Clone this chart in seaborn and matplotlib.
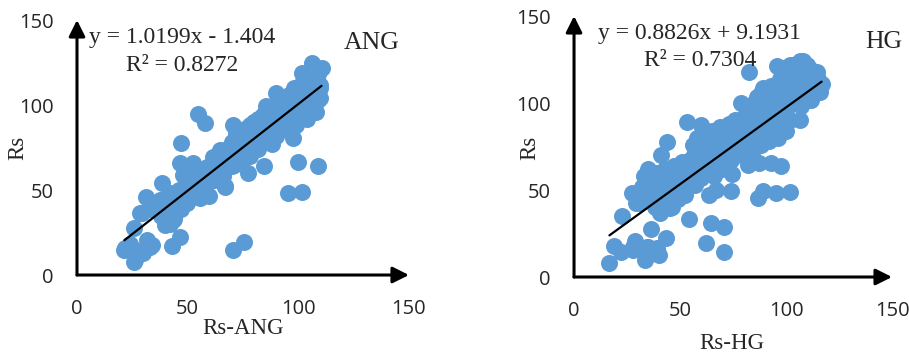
import pandas as pd
import matplotlib.pyplot as plt
import seaborn as sns

# --- Data ---
ang_x = [54.8, 57.8, 47.0, 46.5, 52.6, 38.6, 31.0, 67.0, 59.8, 55.6, 48.8, 46.5, 42.8, 70.6, 75.4,
         21.4, 25.9, 25.9, 28.5, 33.7, 31.5, 33.0, 30.0, 26.2, 21.7, 24.0, 28.0, 42.0, 29.2, 77.1,
         84.5, 87.9, 97.7, 100.0, 109.0, 95.5, 101.5, 106.0, 110.5, 109.0, 106.0, 70.6, 90.0, 85.4,
         101.5, 66.9, 37.5, 40.5, 39.8, 43.5, 36.0, 49.5, 43.5, 61.6, 64.6, 58.6, 54.0, 49.5, 48.0,
         33, 35, 37, 38, 40, 41, 42, 43, 44, 45, 46, 47, 48, 50, 50, 52, 53, 54, 55, 56, 57, 58, 59,
         60, 61, 62, 63, 64, 65, 66, 67, 68, 69, 70, 71, 72, 73, 74, 75, 76, 77, 78, 79, 80, 81, 82,
         83, 84, 85, 86, 87, 88, 89, 90, 91, 92, 93, 94, 95, 96, 97, 98, 99, 100, 101, 102, 103, 104,
         105, 106, 107, 108, 109, 110, 108, 104, 100, 96, 92, 88, 84, 80, 76, 72, 68, 64, 60, 56, 52,
         48, 44, 71, 73, 78, 85, 90, 95, 98, 103, 105, 107, 66, 62, 58, 72, 76, 80, 94, 98, 102,
         62, 65, 68, 70, 72, 74, 76, 78, 80, 82, 84, 86, 88, 90, 92, 94, 96, 98, 100, 102, 104, 106,
         75, 79, 83, 87, 91, 95, 99, 103, 107, 110, 108, 110,
         70, 74, 82, 86, 90, 94, 99, 104, 108]
ang_y = [94.5, 89.2, 77.8, 66.1, 65.7, 53.9, 45.7, 52.0, 46.5, 45.1, 42.2, 22.2, 17.3, 14.7, 19.2,
         14.7, 7.8, 27.8, 36.3, 17.6, 20.6, 16.7, 12.8, 8.8, 15.7, 18.0, 14.0, 30.0, 36.5, 60.2,
         64.1, 76.9, 80.8, 66.3, 64.1, 48.4, 49.0, 124.5, 122.0, 103.0, 96.0, 88.2, 107.0, 99.4,
         118.6, 52.4, 44.0, 36.3, 29.4, 32.4, 38.2, 42.2, 45.0, 69.6, 73.5, 63.7, 59.8, 59.8, 58.8,
         40, 38, 42, 35, 45, 40, 48, 36, 33, 42, 50, 39, 45, 52, 46, 50, 57, 48, 53, 58, 50, 55, 60,
         56, 64, 60, 66, 62, 67, 63, 70, 66, 72, 68, 75, 70, 77, 72, 80, 74, 82, 76, 84, 78, 86, 80,
         88, 82, 90, 84, 92, 86, 95, 88, 97, 90, 99, 92, 101, 94, 103, 96, 105, 98, 108, 100, 110, 102,
         112, 104, 115, 108, 118, 112, 120, 114, 104, 100, 95, 91, 86, 83, 78, 74, 70, 66, 62, 55, 54,
         48, 45, 65, 67, 70, 80, 84, 88, 92, 96, 98, 100, 58, 56, 52, 84, 86, 90, 104, 110, 114,
         68, 72, 74, 78, 82, 84, 86, 88, 90, 92, 94, 96, 98, 100, 102, 104, 106, 108, 110, 112, 116, 118,
         76, 80, 84, 88, 92, 96, 100, 104, 108, 110, 112, 104,
         64, 66, 74, 78, 82, 86, 88, 92, 96]

hg_x = [82.5, 78.6, 53.5, 59.7, 44.0, 40.9, 27.2, 29.2, 22.5, 36.3, 54.1, 64.5, 70.8, 62.3, 70.9,
        16.7, 19.0, 22.2, 28.8, 27.7, 34.3, 33.5, 40.3, 43.4, 35.0, 39.0, 28.0, 73.9, 63.8, 74.4,
        86.6, 89.3, 95.3, 101.9, 97.6, 92.8, 87.4, 82.2, 80.7, 106.6, 95.6, 114.5, 116.8, 116.0,
        106.6, 89.3, 86.2, 45.3, 40.6, 31.1, 52.4, 67.0, 66.0,
        32, 34, 35, 36, 37, 38, 39, 40, 41, 42, 43, 44, 45, 46, 47, 48, 49, 50, 51, 52, 53, 54, 55,
        56, 57, 58, 59, 60, 35, 38, 44, 46, 50, 40, 36,
        61, 62, 63, 64, 65, 66, 67, 68, 69, 70, 71, 72, 73, 74, 75, 76, 77, 78, 79, 80, 62, 58, 56,
        60, 70, 74,
        81, 82, 83, 84, 85, 86, 87, 88, 89, 90, 91, 92, 93, 94, 95, 96, 97, 98, 99, 100, 101, 102,
        103, 104, 105, 106, 107, 108, 109, 110, 111, 112, 113, 114, 115, 96, 100, 92, 88, 84, 98,
        103, 108, 111,
        33, 37, 41, 45, 49, 53, 57, 39, 43, 47, 51, 55, 59, 62, 66, 70, 74, 78, 82, 86, 90, 94, 98,
        102, 106, 110, 100, 104, 108, 112, 96, 92, 88, 84, 72, 68, 64, 57, 54, 60, 65, 69, 64,
        100, 104, 109, 113, 102, 106]
hg_y = [117.6, 99.8, 89.3, 87.4, 77.8, 70.1, 48.5, 42.3, 35.1, 27.4, 33.3, 31.2, 28.9, 19.3, 14.6,
        8.2, 18.0, 14.6, 20.9, 17.0, 17.4, 9.8, 12.6, 22.2, 17.4, 16.5, 15.5, 49.6, 47.1, 59.0,
        45.2, 49.6, 48.1, 49.0, 63.8, 65.3, 65.3, 64.4, 70.7, 124.0, 121.5, 118.0, 111.0, 106.5,
        90.0, 108.4, 103.6, 39.5, 36.6, 42.4, 47.1, 50.0, 58.0,
        52, 55, 48, 58, 44, 53, 60, 50, 46, 56, 62, 52, 48, 58, 64, 54, 45, 60, 66, 56, 50, 62, 68,
        58, 53, 72, 64, 57, 62, 40, 42, 40, 52, 58, 52,
        75, 68, 80, 62, 72, 78, 66, 84, 70, 76, 82, 64, 88, 74, 80, 90, 70, 86, 78, 92, 84, 80, 76,
        70, 62, 67,
        82, 96, 88, 76, 100, 92, 84, 106, 96, 86, 102, 92, 110, 98, 88, 104, 114, 94, 108, 100, 118,
        90, 112, 104, 120, 110, 98, 116, 106, 122, 112, 102, 118, 108, 114, 80, 84, 78, 76, 70, 120,
        122, 124, 120,
        58, 50, 54, 55, 58, 60, 62, 47, 50, 52, 54, 56, 60, 72, 74, 80, 82, 84, 88, 90, 94, 100, 104,
        108, 114, 116, 96, 100, 104, 110, 92, 86, 82, 80, 72, 70, 66, 72, 66, 76, 84, 86, 78,
        114, 116, 118, 114, 122, 120]

panels = ['ANG', 'HG']
xs = [ang_x, hg_x]
ys = [ang_y, hg_y]
slopes = [1.0199, 0.8826]
intercepts = [-1.404, 9.1931]
equations = ['y = 1.0199x - 1.404', 'y = 0.8826x + 9.1931']
r2_labels = ['R² = 0.8272', 'R² = 0.7304']
ticks = [0, 50, 100, 150]

sns.set_style('white')
plt.rcParams['font.family'] = ['Open Sans', 'DejaVu Sans']
serif = 'Liberation Serif'
blue = '#5B9BD5'

fig = plt.figure(figsize=(9.09, 3.56), dpi=100)
axes = [fig.add_axes([0.0847, 0.2275, 0.3652, 0.7163]),
        fig.add_axes([0.6315, 0.2219, 0.3498, 0.7331])]

# per-panel label placement (axes fraction / data units)
ylab_pos = [(-0.178, 0.498), (-0.138, 0.494)]
xlab_pos = [(0.5, -0.208), (0.497, -0.253)]
eq_x = [47.4, 59.4]
eq_y = [(140, 123.5), (140.2, 124.7)]
name_pos = [(133.3, 136.5), (146.2, 135)]

for i, ax in enumerate(axes):
    df = pd.DataFrame({'pred': xs[i], 'Rs': ys[i]})
    sns.scatterplot(data=df, x='pred', y='Rs', color=blue, s=150, linewidth=0,
                    alpha=1, ax=ax, zorder=2)

    # linear trend line from the printed coefficients
    x0, x1 = min(xs[i]), max(xs[i])
    ax.plot([x0, x1], [slopes[i] * x0 + intercepts[i], slopes[i] * x1 + intercepts[i]],
            color='black', lw=1.6, zorder=3)

    ax.set_xlim(0, 150)
    ax.set_ylim(0, 150)
    ax.set_xticks(ticks)
    ax.set_yticks(ticks)
    ax.tick_params(axis='x', length=0, pad=17, labelsize=14.5)
    ax.tick_params(axis='y', length=0, pad=17, labelsize=14.5)
    for s in ax.spines.values():
        s.set_visible(False)

    # arrow axes
    arrow = dict(arrowstyle='-|>,head_length=0.7,head_width=0.35', lw=2.2, color='black',
                 shrinkA=0, shrinkB=0, mutation_scale=14)
    ax.annotate('', xy=(150, 0), xytext=(0, 0), arrowprops=arrow, annotation_clip=False)
    ax.annotate('', xy=(0, 150), xytext=(0, 0), arrowprops=arrow, annotation_clip=False)

    ax.set_xlabel('Rs-' + panels[i], family=serif, fontsize=16.5)
    ax.set_ylabel('Rs', family=serif, fontsize=16.5)
    ax.xaxis.label.set_va('center')
    ax.yaxis.label.set_va('center')
    ax.xaxis.set_label_coords(*xlab_pos[i])
    ax.yaxis.set_label_coords(*ylab_pos[i])

    ax.text(eq_x[i], eq_y[i][0], equations[i], family=serif, fontsize=17,
            ha='center', va='center', zorder=5)
    ax.text(eq_x[i], eq_y[i][1], r2_labels[i], family=serif, fontsize=17,
            ha='center', va='center', zorder=5)
    ax.text(*name_pos[i], panels[i], family=serif, fontsize=18.5,
            ha='center', va='center', zorder=5)

fig.savefig('out.png', dpi=100)
